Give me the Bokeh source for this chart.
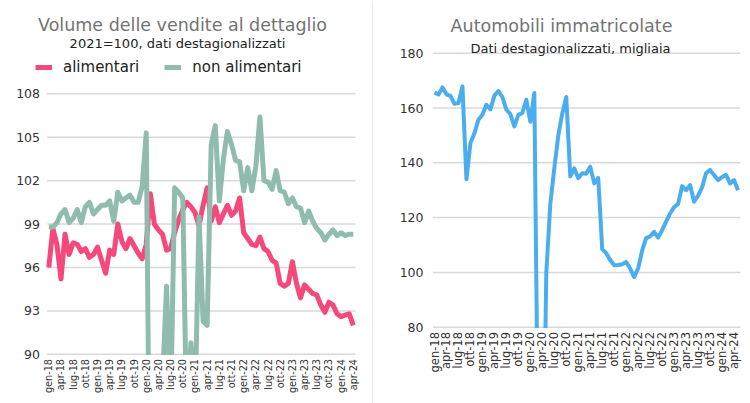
import math
from bokeh.plotting import figure
from bokeh.models import Label, Legend, LegendItem, Range1d
from bokeh.layouts import row
from bokeh.core.properties import value
from bokeh.embed import file_html
from bokeh.resources import INLINE

FONT = "DejaVu Sans"

# ---------------- data ----------------
tick_labels = ["gen-18", "apr-18", "lug-18", "ott-18",
               "gen-19", "apr-19", "lug-19", "ott-19",
               "gen-20", "apr-20", "lug-20", "ott-20",
               "gen-21", "apr-21", "lug-21", "ott-21",
               "gen-22", "apr-22", "lug-22", "ott-22",
               "gen-23", "apr-23", "lug-23", "ott-23",
               "gen-24", "apr-24"]
tick_pos = [0, 3, 6, 9, 12, 15, 18, 21, 24, 27, 30, 33, 36, 39, 42, 45,
            48, 51, 54, 57, 60, 63, 66, 69, 72, 75]

# Volume delle vendite al dettaglio (gen-18 .. apr-24), 2021=100
alimentari = [96.0, 98.7, 97.6, 95.2, 98.3, 96.9, 97.7, 97.6, 97.1, 97.3,
              96.7, 96.9, 97.4, 96.5, 95.6, 97.2, 96.9, 99.0, 97.8, 97.3,
              98.0, 97.5, 97.0, 96.6, 97.6, 101.1, 99.0, 98.6, 98.3, 97.2,
              97.3, 98.4, 99.3, 100.0, 100.5, 100.2, 99.8, 98.9, 100.3, 101.5,
              99.2, 100.2, 99.1, 99.7, 100.3, 99.6, 99.9, 100.8, 98.4, 98.0,
              97.6, 97.5, 98.1, 97.3, 97.1, 96.5, 96.3, 94.9, 94.7, 94.9,
              96.4, 94.9, 93.9, 94.8, 94.5, 94.2, 94.1, 93.4, 92.9, 93.6,
              93.4, 92.8, 92.6, 92.7, 92.8, 92.0]
non_alimentari = [98.8, 98.8, 99.1, 99.7, 100.0, 99.1, 99.4, 100.0, 99.1, 100.2,
                  100.5, 99.7, 100.0, 100.3, 100.3, 100.6, 99.2, 101.2, 100.6, 100.8,
                  101.0, 100.5, 100.5, 101.6, 105.3, 75.0, 55.0, 70.0, 88.0, 94.7,
                  86.0, 101.5, 101.2, 100.8, 84.6, 90.8, 86.0, 99.5, 92.3, 92.0,
                  104.5, 105.8, 100.6, 103.5, 105.4, 104.5, 103.4, 103.3, 101.3, 102.9,
                  101.3, 103.0, 106.4, 102.0, 101.9, 101.4, 102.7, 101.3, 101.2, 100.4,
                  100.8, 100.2, 100.1, 99.1, 99.9, 99.2, 98.7, 98.4, 97.9, 98.3,
                  98.6, 98.2, 98.4, 98.2, 98.3, 98.3]

# Automobili immatricolate (gen-18 .. mag-24), migliaia
automobili = [165.7, 164.9, 167.5, 165.0, 164.4, 161.5, 161.8, 167.9, 134.0, 147.2,
              150.8, 155.7, 157.5, 161.2, 159.5, 164.5, 166.2, 164.0, 159.4, 157.8,
              153.3, 157.5, 158.2, 163.0, 155.0, 165.5, 28.0, 4.0, 100.0, 125.0,
              138.0, 150.0, 158.0, 164.0, 135.0, 138.0, 134.4, 136.2, 136.0, 138.6,
              132.5, 134.5, 108.5, 107.0, 104.5, 102.6, 102.7, 103.0, 103.8, 101.4,
              98.3, 101.5, 108.0, 112.5, 113.2, 114.8, 112.7, 115.4, 118.5, 121.5,
              123.8, 125.0, 131.5, 130.0, 131.9, 125.8, 128.0, 131.0, 136.2, 137.4,
              135.5, 133.7, 134.8, 135.6, 132.5, 133.7, 130.0]

left_yticks = [90, 93, 96, 99, 102, 105, 108]
right_yticks = [80, 100, 120, 140, 160, 180]

PINK = "#f5497b"
GREEN = "#8fbcae"
BLUE = "#4aadf0"
GRID = "#d9d9d9"
TXT = "#333333"
TITLE = "#737373"
SUB = "#222222"


def make_map(xa, Xa, xb, Xb, ya, Ya, yb, Yb):
    """pixel (canvas) -> data helpers for a figure whose frame fills its canvas"""
    sx = (Xb - Xa) / (xb - xa)
    sy = (Ya - Yb) / (yb - ya)

    def fx(X):
        return xa + (X - Xa) / sx

    def fy(Y):
        return ya + (Ya - Y) / sy
    return fx, fy


def base_fig(W, H, fx, fy):
    p = figure(width=W, height=H, x_range=Range1d(fx(0), fx(W)), y_range=Range1d(fy(H), fy(0)),
               x_axis_type=None, y_axis_type=None, output_backend="svg",
               toolbar_location=None, min_border=0)
    p.outline_line_color = None
    p.background_fill_color = "white"
    p.border_fill_color = "white"
    p.grid.visible = False
    return p


def gridlines(p, fx, yticks, grid_x0, grid_x1):
    p.segment(x0=[fx(grid_x0)] * len(yticks), x1=[fx(grid_x1)] * len(yticks),
              y0=yticks, y1=yticks, line_color=GRID, line_width=1.5)


def finish(p, fx, fy, yticks, base_Y, ylab_X, xlab_Y, xlab_size, H, mask_x0, mask_x1):
    # mask anything drawn below the baseline (lines are cut off at the axis)
    p.quad(left=[fx(mask_x0)], right=[fx(mask_x1)], bottom=[fy(H)], top=[fy(base_Y + 0.8)],
           fill_color="white", line_color=None)
    # y tick labels
    p.text(x=[fx(ylab_X)] * len(yticks), y=yticks, text=[str(t) for t in yticks],
           text_align="right", text_baseline="middle", text_font=value(FONT),
           text_font_size=value("12.5px"), text_color=TXT)
    # x tick labels, vertical
    p.text(x=tick_pos, y=[fy(xlab_Y)] * len(tick_pos), text=tick_labels, angle=math.pi / 2,
           text_align="right", text_baseline="middle", text_font=value(FONT),
           text_font_size=value(xlab_size), text_color=TXT)


# ---------------- left chart ----------------
LW, H = 373, 403
lfx, lfy = make_map(0, 48.3, 75, 352.8, 90, 353.8, 108, 93.3)
p1 = base_fig(LW, H, lfx, lfy)
gridlines(p1, lfx, left_yticks, 46.7, 355)

xs_l = list(range(len(alimentari)))
r_ali = p1.line(xs_l, alimentari, line_color=PINK, line_width=5, line_join="round")
r_non = p1.line(xs_l, non_alimentari, line_color=GREEN, line_width=5, line_join="round")

finish(p1, lfx, lfy, left_yticks, 353.8, 39.5, 358.5, "9.7px", H, 40, 362)

# separator between the two panels
p1.segment(x0=[lfx(372.5)], x1=[lfx(372.5)], y0=[lfy(0)], y1=[lfy(H)],
           line_color="#d4d4d4", line_width=1)

p1.add_layout(Label(x=lfx(182), y=lfy(24), text="Volume delle vendite al dettaglio",
                    text_align="center", text_baseline="alphabetic", text_font=FONT,
                    text_font_size="17.5px", text_color=TITLE))
p1.add_layout(Label(x=lfx(177), y=lfy(43.3), text="2021=100, dati destagionalizzati",
                    text_align="center", text_baseline="alphabetic", text_font=FONT,
                    text_font_size="13px", text_color=SUB))

legend = Legend(items=[LegendItem(label="alimentari", renderers=[r_ali]),
                       LegendItem(label="non alimentari", renderers=[r_non])],
                location=(35, 326.5), orientation="horizontal",
                glyph_width=17, glyph_height=20, label_height=20,
                label_standoff=11, spacing=25, padding=0, margin=0,
                border_line_color=None, background_fill_alpha=0,
                label_text_font=FONT, label_text_font_size="15px",
                label_text_color=SUB)
p1.add_layout(legend)

# ---------------- right chart ----------------
RW = 377
OFF = 373  # canvas x of the right panel
rfx, rfy = make_map(0, 434 - OFF, 76, 737.5 - OFF, 80, 326.7, 180, 52.7)
p2 = base_fig(RW, H, rfx, rfy)
gridlines(p2, rfx, right_yticks, 432.3 - OFF, 740 - OFF)

xs_r = list(range(len(automobili)))
p2.line(xs_r, automobili, line_color=BLUE, line_width=4, line_join="round")

finish(p2, rfx, rfy, right_yticks, 326.7, 423 - OFF, 331.5, "11.5px", H, 425 - OFF, RW)

p2.add_layout(Label(x=rfx(561 - OFF), y=rfy(25), text="Automobili immatricolate",
                    text_align="center", text_baseline="alphabetic", text_font=FONT,
                    text_font_size="17.5px", text_color=TITLE))
p2.add_layout(Label(x=rfx(570 - OFF), y=rfy(48.3), text="Dati destagionalizzati, migliaia",
                    text_align="center", text_baseline="alphabetic", text_font=FONT,
                    text_font_size="13px", text_color=SUB))

layout = row(p1, p2, spacing=0)

open("out.html", "w").write(file_html(layout, INLINE))
